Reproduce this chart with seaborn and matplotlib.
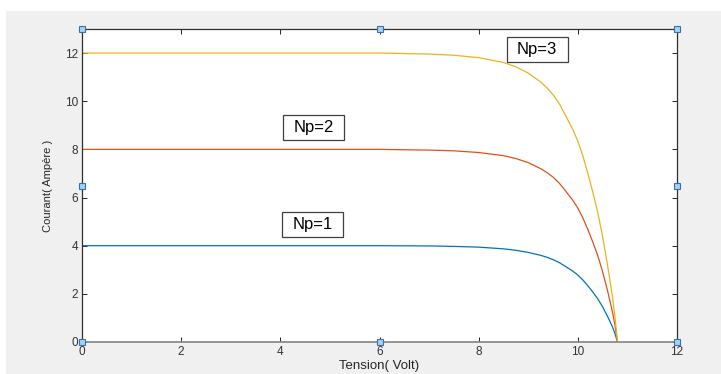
import matplotlib
matplotlib.use("Agg")
import matplotlib.pyplot as plt
import seaborn as sns
import pandas as pd
from matplotlib.patches import Rectangle
from matplotlib.path import Path

# ---- data ----
tension = [0, 2, 4, 6, 7, 7.5, 8, 8.5, 8.75, 9, 9.25, 9.375, 9.5, 9.625, 9.75, 9.9, 10, 10.1, 10.2, 10.3, 10.4, 10.5, 10.6, 10.7, 10.75, 10.8]
courant_np1 = [4.0, 4.0, 4.0, 4.0, 3.99, 3.97, 3.94, 3.87, 3.81, 3.72, 3.60, 3.52, 3.42, 3.30, 3.14, 2.94, 2.78, 2.58, 2.34, 2.08, 1.80, 1.46, 1.06, 0.62, 0.34, 0.0]
courant_np2 = [8.0, 8.0, 8.0, 8.0, 7.97, 7.94, 7.87, 7.74, 7.62, 7.45, 7.20, 7.04, 6.85, 6.60, 6.28, 5.88, 5.56, 5.16, 4.68, 4.16, 3.60, 2.92, 2.12, 1.24, 0.68, 0.0]
courant_np3 = [12.0, 12.0, 12.0, 12.0, 11.96, 11.91, 11.81, 11.61, 11.43, 11.17, 10.80, 10.56, 10.27, 9.90, 9.42, 8.82, 8.34, 7.74, 7.02, 6.24, 5.40, 4.38, 3.18, 1.86, 1.02, 0.0]
series_labels = ["Np=1", "Np=2", "Np=3"]
label_pos_v = [4.65, 4.67, 9.18]
label_pos_i = [4.86, 8.91, 12.13]
x_ticks = [0, 2, 4, 6, 8, 10, 12]
y_ticks = [0, 2, 4, 6, 8, 10, 12]
x_label = "Tension( Volt)"
y_label = "Courant( Ampère )"

df = pd.concat([
    pd.DataFrame({"V": tension, "I": courant_np1, "Np": series_labels[0]}),
    pd.DataFrame({"V": tension, "I": courant_np2, "Np": series_labels[1]}),
    pd.DataFrame({"V": tension, "I": courant_np3, "Np": series_labels[2]}),
])

sns.set_style("ticks")
plt.rcParams["font.family"] = ["Liberation Sans", "DejaVu Sans"]

W, H = 721, 374
fig = plt.figure(figsize=(W / 100, H / 100), dpi=100)
fig.patch.set_facecolor("white")
fig.patches.append(Rectangle((6 / W, 0), 1 - 6 / W, (H - 11) / H,
                             transform=fig.transFigure, facecolor="#f0f0f0",
                             edgecolor="none", zorder=-5))

ax = fig.add_axes([82 / W, (H - 342) / H, (677 - 82) / W, (342 - 29) / H])
ax.set_zorder(1)
ax.set_facecolor("white")

palette = ["#0072BD", "#D95319", "#EDB120"]
sns.lineplot(data=df, x="V", y="I", hue="Np", palette=palette, legend=False,
             linewidth=0.9, ax=ax, sort=False)

ax.set_xlim(0, 12)
ax.set_ylim(0, 13)
ax.set_xticks(x_ticks)
ax.set_yticks(y_ticks)
ax.tick_params(direction="in", length=3.5, width=0.7, colors="#262626",
               labelsize=8.5, top=True, right=True, pad=3)
ax.tick_params(axis="both", labelcolor="#333333")

for s in ["left", "top", "right"]:
    ax.spines[s].set_visible(True)
    ax.spines[s].set_color("#303030")
    ax.spines[s].set_linewidth(0.9)
ax.spines["bottom"].set_color("#8c8c8c")
ax.spines["bottom"].set_linewidth(1.3)

ax.set_xlabel(x_label, fontsize=9.5, color="#262626", labelpad=1)
ax.set_ylabel(y_label, fontsize=8, color="#262626", labelpad=8)


def wide_box(x0, y0, width, height, mutation_size):
    px = 0.62 * mutation_size
    py = 0.3 * mutation_size
    x0, y0 = x0 - px, y0 - py
    x1, y1 = x0 + width + 2 * px, y0 + height + 2 * py
    return Path([(x0, y0), (x1, y0), (x1, y1), (x0, y1), (x0, y0)], closed=True)


for lab, v, i in zip(series_labels, label_pos_v, label_pos_i):
    ax.text(v, i, lab, fontsize=12, ha="center", va="center", color="black",
            bbox=dict(boxstyle=wide_box, facecolor="white",
                      edgecolor="#404040", linewidth=0.9))

# selection handles
for hx, hy in [(0, 0), (0.5, 0), (1, 0), (0, 0.5), (1, 0.5), (0, 1), (0.5, 1), (1, 1)]:
    ax.plot([hx], [hy], marker="s", markersize=5, markerfacecolor="#a8d0f0",
            markeredgecolor="#2f74b5", markeredgewidth=0.8,
            transform=ax.transAxes, clip_on=False, zorder=10)

fig.savefig("out.png", dpi=100, facecolor=fig.get_facecolor())
